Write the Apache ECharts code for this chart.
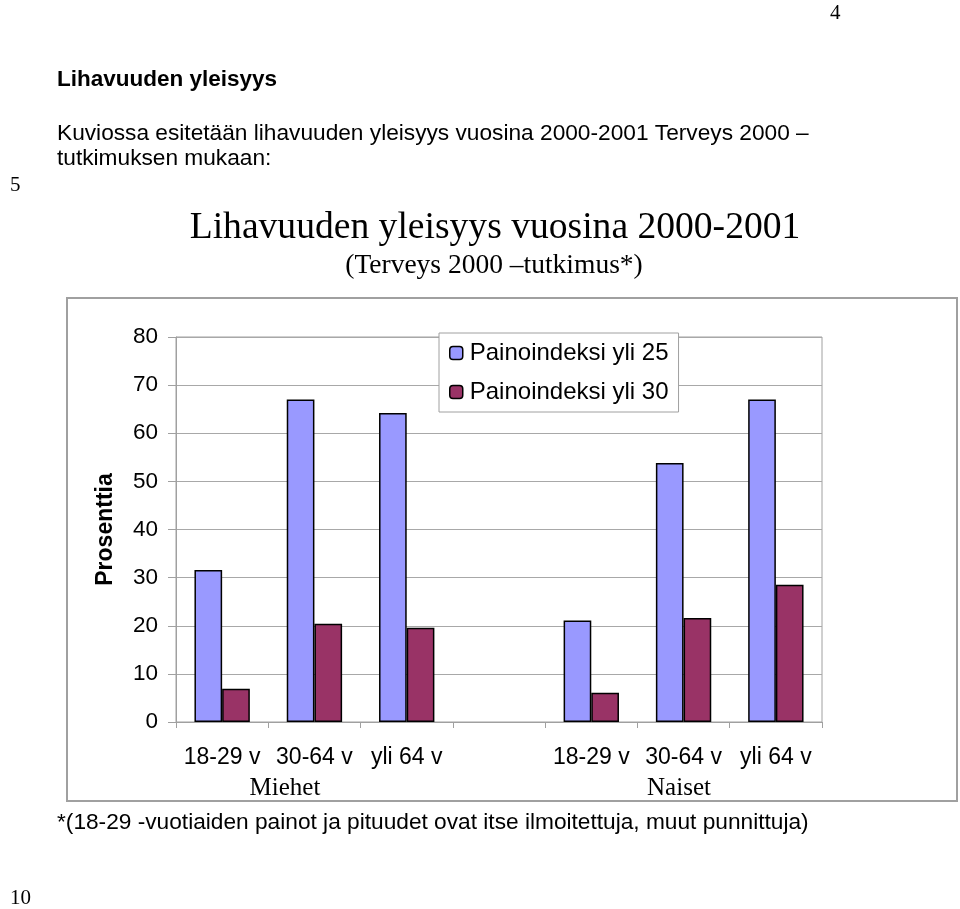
<!DOCTYPE html>
<html>
<head>
<meta charset="utf-8">
<script src="https://cdn.jsdelivr.net/npm/echarts@6/dist/echarts.min.js"></script>
<style>
html,body{margin:0;padding:0;background:#fff;}
#chart{width:960px;height:909px;}
</style>
</head>
<body>
<div id="chart"></div>
<script>
// ---- data ----
var ageLabels = ['18-29 v', '30-64 v', 'yli 64 v'];
var groupNames = ['Miehet', 'Naiset'];
var seriesNames = ['Painoindeksi yli 25', 'Painoindeksi yli 30'];
var bmi25Miehet = [31.6, 67.0, 64.2];
var bmi25Naiset = [21.1, 53.8, 67.0];
var bmi30Miehet = [6.9, 20.4, 19.6];
var bmi30Naiset = [6.1, 21.6, 28.5];
var yTicks = [0, 10, 20, 30, 40, 50, 60, 70, 80];

// build category keys: Miehet ages, a blank gap, Naiset ages
var categories = [];
ageLabels.forEach(function (a) { categories.push(groupNames[0] + '|' + a); });
categories.push('gap|');
ageLabels.forEach(function (a) { categories.push(groupNames[1] + '|' + a); });
var bmi25 = bmi25Miehet.concat(['-'], bmi25Naiset);
var bmi30 = bmi30Miehet.concat(['-'], bmi30Naiset);

var SANS = '"Liberation Sans", Arial, sans-serif';
var SERIF = '"Liberation Serif", "Times New Roman", serif';

var chart = echarts.init(document.getElementById('chart'), null, {renderer: 'canvas'});
chart.setOption({
  backgroundColor: '#fff',
  animation: false,
  graphic: [
    {type: 'rect', z: -10, shape: {x: 67, y: 298, width: 890, height: 503},
     style: {fill: '#fff', stroke: '#a0a0a0', lineWidth: 2}},
    {type: 'text', left: 830, top: 3, style: {text: '4', font: '21px ' + SERIF, fill: '#000'}},
    {type: 'text', left: 10, top: 175, style: {text: '5', font: '21px ' + SERIF, fill: '#000'}},
    {type: 'text', left: 10, top: 888, style: {text: '10', font: '21px ' + SERIF, fill: '#000'}},
    {type: 'text', left: 57, top: 68, style: {text: 'Lihavuuden yleisyys', font: 'bold 22.5px ' + SANS, fill: '#000'}},
    {type: 'text', left: 57, top: 122, style: {text: 'Kuviossa esitetään lihavuuden yleisyys vuosina 2000-2001 Terveys 2000 –', font: '22.7px ' + SANS, fill: '#000'}},
    {type: 'text', left: 57, top: 147, style: {text: 'tutkimuksen mukaan:', font: '22.7px ' + SANS, fill: '#000'}},
    {type: 'text', x: 495, y: 228, style: {text: 'Lihavuuden yleisyys vuosina 2000-2001', font: '37.6px ' + SERIF, fill: '#000', align: 'center', verticalAlign: 'middle'}},
    {type: 'text', x: 494, y: 266, style: {text: '(Terveys 2000 –tutkimus*)', font: '27.5px ' + SERIF, fill: '#000', align: 'center', verticalAlign: 'middle'}},
    {type: 'text', x: 285, y: 788, style: {text: groupNames[0], font: '25px ' + SERIF, fill: '#000', align: 'center', verticalAlign: 'middle'}},
    {type: 'text', x: 679, y: 788, style: {text: groupNames[1], font: '25px ' + SERIF, fill: '#000', align: 'center', verticalAlign: 'middle'}},
    {type: 'text', left: 57, top: 811, style: {text: '*(18-29 -vuotiaiden painot ja pituudet ovat itse ilmoitettuja, muut punnittuja)', font: '22.7px ' + SANS, fill: '#000'}}
  ],
  legend: {
    left: 439, top: 333,
    orient: 'vertical',
    data: seriesNames,
    itemWidth: 13, itemHeight: 13,
    itemGap: 13,
    padding: [7, 10, 7, 10],
    backgroundColor: '#fff',
    borderColor: '#a0a0a0',
    borderWidth: 1,
    textStyle: {fontFamily: SANS, fontSize: 24, color: '#000', lineHeight: 26, padding: [0, 0, 0, 2]},
    itemStyle: {borderColor: '#000', borderWidth: 1.5}
  },
  grid: {left: 176, right: 138, top: 337, bottom: 187, show: true, borderColor: '#a0a0a0', borderWidth: 1, containLabel: false},
  xAxis: {
    type: 'category',
    data: categories,
    axisLine: {lineStyle: {color: '#a0a0a0', width: 1}},
    axisTick: {show: true, length: 6, lineStyle: {color: '#a0a0a0'}},
    axisLabel: {
      interval: 0, margin: 24, color: '#000', fontFamily: SANS, fontSize: 23,
      formatter: function (v) { return v.split('|')[1]; }
    },
    splitLine: {show: false}
  },
  yAxis: {
    type: 'value', min: yTicks[0], max: yTicks[yTicks.length - 1], interval: 10,
    name: 'Prosenttia', nameLocation: 'middle', nameGap: 59,
    nameTextStyle: {fontFamily: SANS, fontSize: 23, fontWeight: 'bold', color: '#000'},
    axisLine: {show: true, lineStyle: {color: '#a0a0a0', width: 1}},
    axisTick: {show: true, length: 8, lineStyle: {color: '#a0a0a0'}},
    axisLabel: {margin: 18, color: '#000', fontFamily: SANS, fontSize: 22.5},
    splitLine: {lineStyle: {color: '#a8a8a8', width: 1}}
  },
  series: [
    {name: seriesNames[0], type: 'bar', data: bmi25, barGap: '0%', barCategoryGap: '40%',
     itemStyle: {color: '#9999FF', borderColor: '#000', borderWidth: 1.5}},
    {name: seriesNames[1], type: 'bar', data: bmi30, barGap: '0%', barCategoryGap: '40%',
     itemStyle: {color: '#993366', borderColor: '#000', borderWidth: 1.5}}
  ]
});
</script>
</body>
</html>
